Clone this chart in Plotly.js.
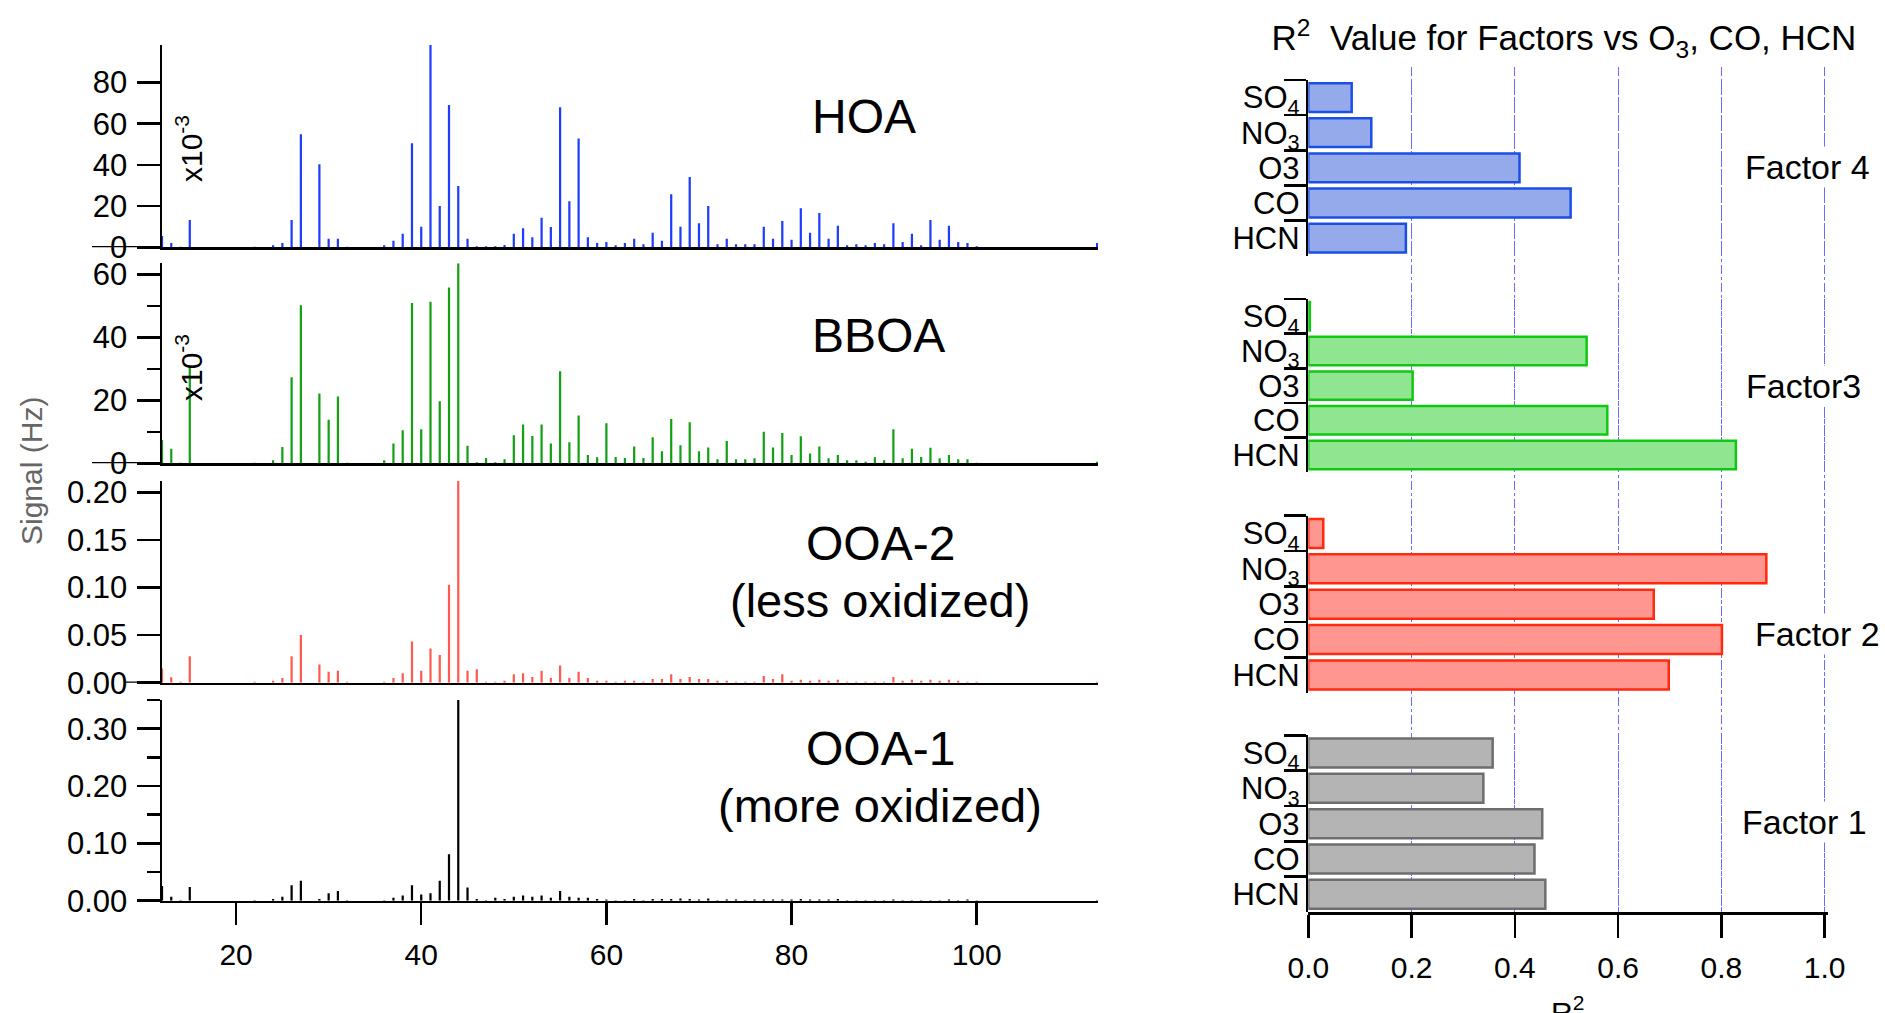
<!DOCTYPE html>
<html><head><meta charset="utf-8">
<script src="https://cdn.plot.ly/plotly-3.0.1.min.js"></script>
<style>html,body{margin:0;padding:0;background:#fff;}#chart{width:1885px;height:1013px;}</style>
</head><body><div id="chart"></div>
<script>
// ---- Mass spectra (m/z) ----
const mz = [12,13,14,15,22,24,25,26,27,29,30,31,32,36,37,38,39,40,41,42,43,44,45,46,47,48,49,50,51,52,53,54,55,56,57,58,59,60,61,62,63,64,65,66,67,68,69,70,71,72,73,74,75,76,77,78,79,80,81,82,83,84,85,86,87,88,89,90,91,92,93,94,95,96,97,98,99,100,113];
// HOA and BBOA in units of 1e-3 Hz
const hoa = [5.5,2.1,0.3,13.3,0.3,1.0,2.1,13.3,54.9,40.3,4.2,4.2,0.3,1.0,3.2,6.6,50.5,10.0,98.2,20.1,69.1,29.8,4.2,0.5,0.5,0.5,1.1,6.6,9.2,4.9,14.4,9.9,68.0,22.3,52.8,4.9,2.1,2.6,1.0,2.1,4.2,1.5,7.1,3.2,25.7,10.0,34.1,11.7,20.1,1.5,4.2,1.5,1.5,1.5,10.0,4.2,12.8,3.7,18.9,7.1,16.7,4.2,10.5,1.0,1.5,1.0,2.1,1.5,11.7,2.6,6.6,1.0,13.3,3.7,10.5,2.6,2.1,0.5,2.1];
const bboa = [7.4,4.6,0.2,31.0,0.2,1.0,5.2,27.3,50.2,22.2,13.8,21.2,0.2,1.0,6.3,10.5,50.9,10.8,51.3,19.7,55.8,63.5,5.6,0.3,1.7,0.3,1.3,8.9,12.3,8.7,12.3,6.3,29.2,6.7,15.2,2.6,1.9,12.7,2.0,1.7,5.3,1.7,8.3,3.8,14.1,5.7,13.0,3.8,5.0,1.3,7.1,1.3,1.3,1.6,10.0,5.0,9.6,2.6,8.6,3.1,5.3,1.6,2.6,1.0,1.0,0.5,1.9,1.0,10.8,1.6,4.6,2.0,4.9,1.6,2.6,1.3,1.3,0.2,0.5];
const ooa2 = [0.015,0.0056,0.001,0.0277,0.001,0.002,0.005,0.0277,0.050,0.019,0.0116,0.0126,0.001,0.001,0.005,0.010,0.0434,0.0126,0.036,0.029,0.103,0.212,0.0126,0.014,0.001,0.001,0.002,0.009,0.010,0.006,0.0126,0.005,0.018,0.005,0.0116,0.005,0.002,0.002,0.001,0.002,0.002,0.001,0.004,0.004,0.009,0.004,0.006,0.004,0.004,0.002,0.002,0.001,0.001,0.001,0.007,0.004,0.009,0.002,0.003,0.002,0.003,0.002,0.003,0.001,0.001,0.001,0.001,0.001,0.006,0.002,0.003,0.002,0.003,0.002,0.003,0.002,0.001,0.001,0.001];
const ooa1 = [0.0256,0.007,0.001,0.024,0.001,0.003,0.007,0.027,0.035,0.003,0.013,0.017,0.001,0.001,0.005,0.009,0.027,0.011,0.013,0.035,0.081,0.35,0.023,0.003,0.001,0.005,0.003,0.007,0.009,0.007,0.009,0.005,0.017,0.007,0.005,0.005,0.003,0.002,0.001,0.001,0.003,0.001,0.003,0.003,0.003,0.004,0.003,0.002,0.004,0.001,0.002,0.002,0.001,0.002,0.002,0.002,0.002,0.002,0.003,0.002,0.002,0.002,0.003,0.001,0.001,0.001,0.001,0.001,0.002,0.001,0.001,0.001,0.001,0.001,0.002,0.001,0.002,0.001,0.001];
const mzTicks = [20,40,60,80,100];

// ---- R^2 bars ----
const species = ['SO<sub>4</sub>','NO<sub>3</sub>','O3','CO','HCN'];
const factor4 = [0.084,0.122,0.409,0.508,0.189];
const factor3 = [0.003,0.539,0.202,0.579,0.828];
const factor2 = [0.029,0.887,0.669,0.801,0.698];
const factor1 = [0.357,0.339,0.453,0.438,0.459];
const r2Ticks = [0,0.2,0.4,0.6,0.8,1.0];

const W = 1885, H = 1013;
const px = v => v / W;
const dom = (top, bottom) => [1 - bottom / H, 1 - top / H];
const FONT = 'Liberation Sans, Arial, Helvetica, sans-serif';

const traces = [
  {type:'bar', x: mz, y: ooa1, xaxis:'x', yaxis:'y', width:0.24, marker:{color:'#000000', line:{width:0}}},
  {type:'bar', x: mz, y: hoa, xaxis:'x2', yaxis:'y2', width:0.24, marker:{color:'#1e3cff', line:{width:0}}},
  {type:'bar', x: mz, y: bboa, xaxis:'x3', yaxis:'y3', width:0.24, marker:{color:'#14a014', line:{width:0}}},
  {type:'bar', x: mz, y: ooa2, xaxis:'x4', yaxis:'y4', width:0.24, marker:{color:'#ff5a4f', line:{width:0}}},
  {type:'scatter', x: [], y: [], xaxis:'x5', yaxis:'y5', showlegend:false, hoverinfo:'skip'},
  {type:'bar', orientation:'h', x: factor4, y: species, xaxis:'x5', yaxis:'y6', marker:{color:'#94aaea', line:{color:'#1a4fe6', width:2.5}}},
  {type:'bar', orientation:'h', x: factor3, y: species, xaxis:'x5', yaxis:'y7', marker:{color:'#90e590', line:{color:'#10c810', width:2.5}}},
  {type:'bar', orientation:'h', x: factor2, y: species, xaxis:'x5', yaxis:'y8', marker:{color:'#ff9690', line:{color:'#ff2a10', width:2.5}}},
  {type:'bar', orientation:'h', x: factor1, y: species, xaxis:'x5', yaxis:'y9', marker:{color:'#b4b4b4', line:{color:'#6e6e6e', width:2.5}}}
];

const lineAx = {showline:true, linecolor:'#000', linewidth:2.5, zeroline:false, showgrid:false, fixedrange:true};
const leftX = {domain:[px(162), px(1098)], range:[12, 113.1]};
const tickF = {family:FONT, size:31, color:'#000'};

function topX(anchor) {
  return Object.assign({}, lineAx, leftX, {anchor: anchor, matches:'x', ticks:'', showticklabels:false});
}
function leftY(anchor, d, range, dtick, fmt, minor) {
  const o = Object.assign({}, lineAx, {anchor: anchor, domain: d, range: range, dtick: dtick, tick0:0,
    ticks:'outside', ticklen:23, tickwidth:2.5, tickcolor:'#000', tickfont: tickF, ticklabelstandoff: 3});
  if (fmt) o.tickformat = fmt;
  if (minor) o.minor = {dtick: minor, ticks:'outside', ticklen:13, tickwidth:2.5, tickcolor:'#000', showgrid:false};
  return o;
}
function catY(d) {
  return Object.assign({}, lineAx, {anchor:'x5', domain: d, type:'category', categoryarray: species,
    categoryorder:'array', autorange:'reversed', tickmode:'linear', dtick:1, tick0:0, tickson:'boundaries', ticks:'outside', ticklen:22,
    tickwidth:2.5, tickcolor:'#000', tickfont:{family:FONT, size:31, color:'#000'}, ticklabelstandoff:0});
}

const ann = (text, x, y, size, extra) => Object.assign({text, x: px(x), y: 1 - y / H, xref:'paper', yref:'paper',
  showarrow:false, xanchor:'center', yanchor:'middle', font:{family:FONT, size, color:'#000'}}, extra || {});

const layout = {
  width: W, height: H, margin:{l:0, r:0, t:0, b:0}, paper_bgcolor:'#fff', plot_bgcolor:'rgba(0,0,0,0)',
  showlegend:false, bargap:0.18, font:{family:FONT, color:'#000'},
  title:{text:'R<sup>2</sup>\u00a0 Value for Factors vs O<sub>3</sub>, CO, HCN', x: px(1564), xanchor:'center',
    xref:'paper', yref:'paper', y: 1 - 38 / H, yanchor:'middle', font:{family:FONT, size:35, color:'#000'}},
  // OOA-1 (bottom, with m/z ticks)
  xaxis: Object.assign({}, lineAx, leftX, {anchor:'y', tickvals: mzTicks, ticks:'outside', ticklen:22, tickwidth:2.5,
    tickcolor:'#000', tickfont:{family:FONT, size:30, color:'#000'}, ticklabelstandoff: 4}),
  yaxis: leftY('x', dom(700, 900.7), [0, 0.35], 0.1, '.2f', 0.05),
  // HOA
  xaxis2: topX('y2'),
  yaxis2: leftY('x2', dom(45, 247.3), [0, 98.2], 20, null, null),
  // BBOA
  xaxis3: topX('y3'),
  yaxis3: leftY('x3', dom(263.3, 463.3), [0, 63.5], 20, null, 10),
  // OOA-2
  xaxis4: topX('y4'),
  yaxis4: leftY('x4', dom(481, 682.7), [0, 0.2119], 0.05, '.2f', null),
  // R^2 panel
  xaxis5: Object.assign({}, lineAx, {anchor:'y5', domain:[px(1308.3), px(1827.8)], range:[0, 1.006], tickvals: r2Ticks,
    tickformat:'.1f', ticks:'outside', ticklen:23, tickwidth:2.5, tickcolor:'#000',
    tickfont:{family:FONT, size:30, color:'#000'}, ticklabelstandoff: 4,
    showgrid:true, gridcolor:'#6b6bff', gridwidth:1, griddash:'dashdot'}),
  yaxis5: {anchor:'x5', domain: dom(67, 912), range:[0, 1], visible:false, fixedrange:true},
  yaxis6: catY(dom(80, 255.7)),
  yaxis7: catY(dom(299, 472.3)),
  yaxis8: catY(dom(515.7, 692.7)),
  yaxis9: catY(dom(735.3, 912)),
  shapes: [
    {type:'line', xref:'paper', yref:'y2', x0: px(92), x1: px(162), y0:0, y1:0, line:{color:'#000', width:2.5}},
    {type:'line', xref:'paper', yref:'y3', x0: px(92), x1: px(162), y0:0, y1:0, line:{color:'#000', width:2.5}},
    {type:'line', xref:'paper', yref:'y4', x0: px(124), x1: px(162), y0:0, y1:0, line:{color:'#000', width:2.5}},
    {type:'line', xref:'paper', yref:'y', x0: px(138), x1: px(162), y0:0, y1:0, line:{color:'#000', width:2.5}}
  ],
  annotations: [
    ann('HOA', 864, 117, 48),
    ann('BBOA', 878, 335, 48),
    ann('OOA-2', 880, 543, 48),
    ann('(less oxidized)', 880, 600, 47),
    ann('OOA-1', 880, 748, 48),
    ann('(more oxidized)', 880, 805, 47),
    ann('x10<sup>-3</sup>', 189, 149, 30, {textangle:-90}),
    ann('x10<sup>-3</sup>', 189, 368, 30, {textangle:-90}),
    ann('Signal (Hz)', 32, 471, 30, {textangle:-90, font:{family:FONT, size:30, color:'#666'}}),
    ann('Factor 4', 1807, 167, 34, {bgcolor:'#fff'}),
    ann('Factor3', 1803, 386, 34, {bgcolor:'#fff'}),
    ann('Factor 2', 1817, 634, 34, {bgcolor:'#fff'}),
    ann('Factor 1', 1804, 822, 34, {bgcolor:'#fff'}),
    ann('R<sup>2</sup>', 1567, 1010, 30)
  ]
};

Plotly.newPlot('chart', traces, layout, {staticPlot:true, displayModeBar:false});
</script>
</body></html>
